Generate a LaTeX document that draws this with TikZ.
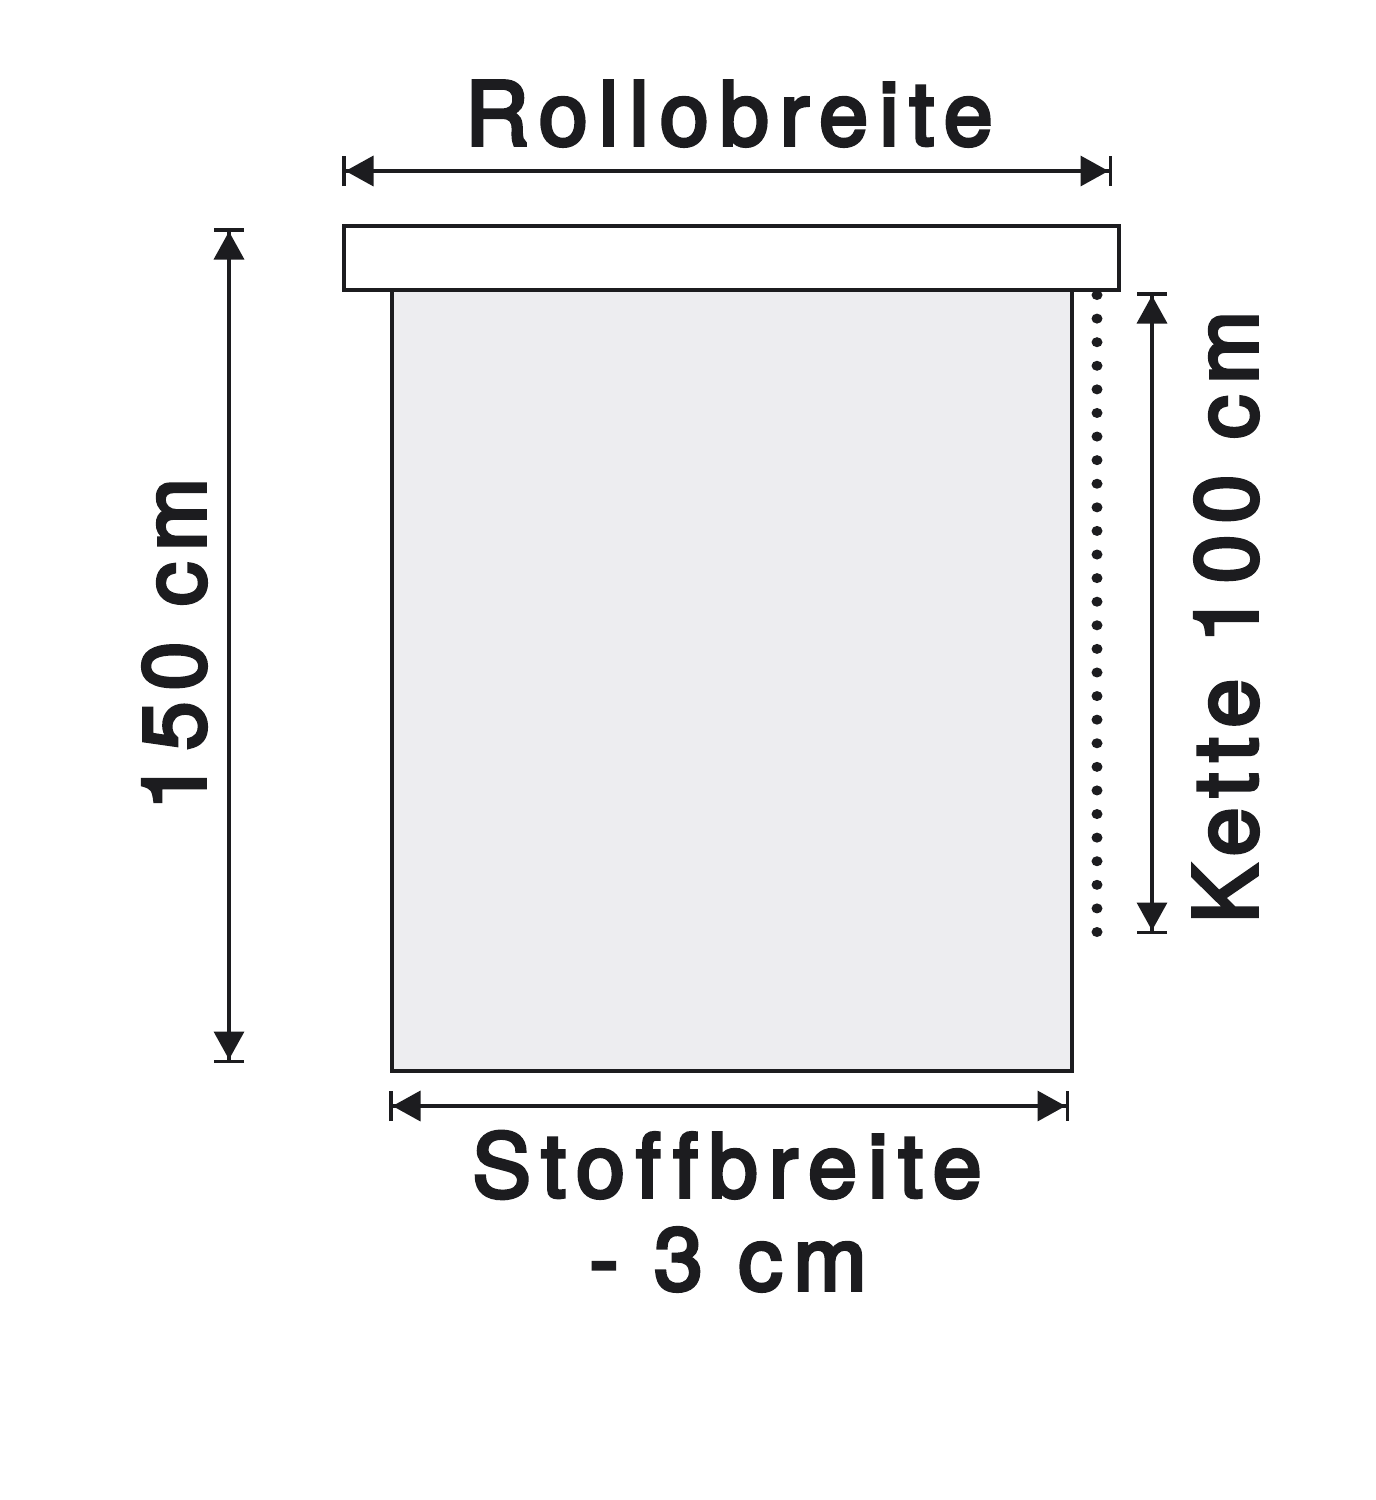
\documentclass[tikz,border=0pt]{standalone}
\usepackage{fontspec}
\setmainfont{TeX Gyre Heros}[LetterSpace=12.5, FakeBold=4, Ligatures=NoCommon]
\usetikzlibrary{arrows.meta}
\definecolor{ink}{HTML}{1C1C1F}
\definecolor{fabric}{HTML}{EDEDF0}
\tikzset{
  dimarrow/.style={draw=ink, line width=3.5pt,
    arrows={{Bar[width=30pt]Triangle[length=28pt,width=30pt]}-{Triangle[length=28pt,width=30pt]Bar[width=30pt]}}},
  label/.style={text=ink, font=\fontsize{88}{100}\selectfont, inner sep=0pt, anchor=base},
  chaindot/.style={fill=ink, draw=none},
}
\begin{document}
\begin{tikzpicture}[x=1pt,y=-1pt]
\useasboundingbox (0,0) rectangle (1376,1500);
\fill[white] (0,0) rectangle (1376,1500);
% fabric and roller
\node[draw=ink, fill=fabric, line width=3.5pt, minimum width=680pt, minimum height=781pt, anchor=north west, inner sep=0pt] (fabric) at (390,288) {};
\node[draw=ink, fill=white, line width=3.5pt, minimum width=775pt, minimum height=64pt, anchor=north west, inner sep=0pt] (roller) at (342,224) {};
% chain
\foreach \i in {0,...,27} {
  \fill[chaindot] (1097,{295+\i*23.5926}) ellipse (5.5pt and 5pt);
}
% dimension coordinates
\coordinate (tl) at (342,171);
\coordinate (tr) at (1112,171);
\coordinate (lt) at (229,228);
\coordinate (lb) at (229,1063);
\coordinate (rt) at (1152,292);
\coordinate (rb) at (1152,934);
\coordinate (bl) at (389,1106);
\coordinate (br) at (1069,1106);
\draw[dimarrow] (tl) -- (tr);
\draw[dimarrow] (lt) -- (lb);
\draw[dimarrow] (rt) -- (rb);
\draw[dimarrow] (bl) -- (br);
% labels
\node[label] (rollo) at (729,145) {Rollobreite};
\node[label] (stoff) at (727,1197) {Stoffbreite};
\node[label] (minus) at (728,1290) {- 3 cm};
\node[label, rotate=90] (h150) at (205,644) {150 cm};
\node[label, rotate=90] (kette) at (1257,617) {Kette 100 cm};
\end{tikzpicture}
\end{document}
